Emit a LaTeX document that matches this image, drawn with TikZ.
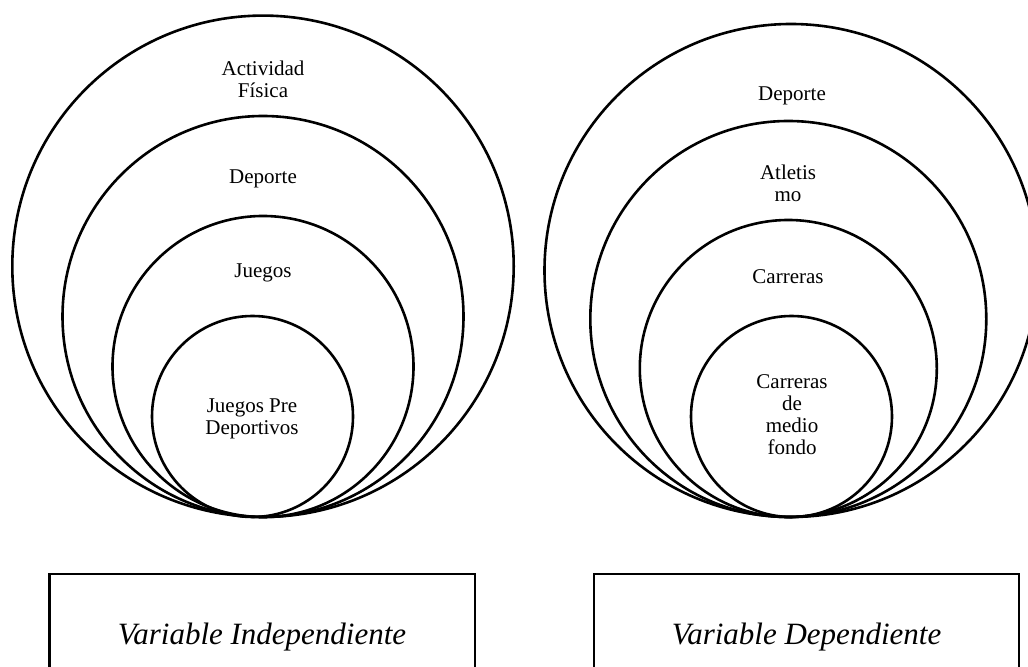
\documentclass[tikz,border=0pt]{standalone}
\usepackage{fontspec}
\setmainfont{Liberation Serif}
\usepackage{tikz}
\usetikzlibrary{positioning}

\tikzset{
  ring/.style={line width=1.3pt},
  lbl/.style={align=center, inner sep=0pt, font=\fontsize{10.5}{11}\selectfont},
  varbox/.style={line width=1.3pt},
  varlbl/.style={anchor=base, inner sep=0pt, font=\fontsize{15.5}{17}\selectfont\itshape}
}

\begin{document}
\begin{tikzpicture}[x=0.5pt, y=-0.5pt]
    \useasboundingbox (0,0) rectangle (1028,667);
    \clip (0,0) rectangle (1028,667);

    % Variable independiente
    \draw[ring] (263,266.3) circle (250.7);
    \draw[ring] (263,316.5) circle (200.5);
    \draw[ring] (263,366.5) circle (150.5);
    \draw[ring] (252.5,416.5) circle (100.5);
    \node[lbl] (actividad) at (263,79) {Actividad\\Física};
    \node[lbl] (deporteI) at (263,179) {Deporte};
    \node[lbl] (juegos) at (263,273) {Juegos};
    \node[lbl] (predep) at (252,419) {Juegos Pre\\Deportivos};

    % Variable dependiente
    \draw[ring] (791,270.5) circle (246.5);
    \draw[ring] (788.3,319) circle (198);
    \draw[ring] (788.3,368.5) circle (148.5);
    \draw[ring] (791.5,416.5) circle (100.5);
    \node[lbl] (deporteD) at (792,96) {Deporte};
    \node[lbl] (atletismo) at (788,183) {Atletis\\mo};
    \node[lbl] (carreras) at (788,277) {Carreras};
    \node[lbl] (mediofondo) at (792,415) {Carreras\\de\\medio\\fondo};

    % Cuadros
    \draw[varbox] (49.5,574) rectangle (475,720);
    \draw[varbox] (594,574) rectangle (1019,720);
    \node[varlbl] (indep) at (262,645) {Variable Independiente};
    \node[varlbl] (dep) at (806.5,645) {Variable Dependiente};
\end{tikzpicture}
\end{document}
